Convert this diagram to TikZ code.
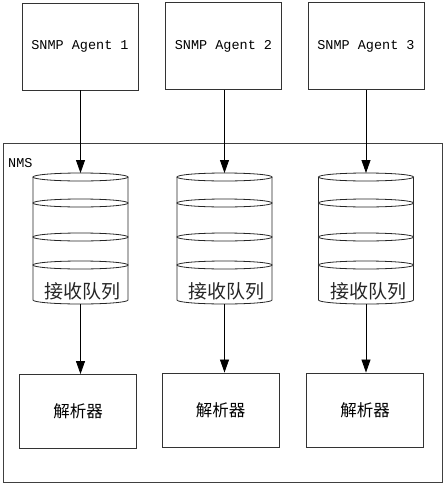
\documentclass[tikz,border=0pt]{standalone}
\usepackage{fontspec}
\setmonofont{Liberation Mono}
\newfontfamily\cjk{Noto Sans CJK SC}
\usetikzlibrary{arrows.meta,calc}
\tikzset{
  box/.style={draw=black!80,line width=0.9pt,inner sep=0pt},
  agent/.style={box,minimum width=116pt,minimum height=87pt,font=\ttfamily\fontsize{13.5}{16}\selectfont},
  parser/.style={box,minimum width=117pt,minimum height=74pt,font=\cjk\fontsize{16.5}{18}\selectfont},
  frame/.style={draw=black!75,line width=0.9pt,inner sep=0pt,minimum width=439pt,minimum height=339pt},
  cyl/.style={draw=black!85,line width=0.8pt},
  qtext/.style={inner sep=0pt,font=\cjk\fontsize{19}{21}\selectfont,text=black!85},
  flow/.style={draw=black,line width=0.8pt,-{Triangle[width=9pt,length=13pt]}},
  lbl/.style={inner sep=0pt,font=\ttfamily\fontsize{13.5}{16}\selectfont}
}
\newcommand\drawqueue[2]{%
  \draw[cyl] (#2-47.5,-177) -- (#2-47.5,-300) arc[start angle=180,end angle=360,x radius=47.5,y radius=4] -- (#2+47.5,-177);
  \foreach \yy in {177,203,237,265}{\draw[cyl,fill=white] (#2,-\yy) ellipse[x radius=47.5,y radius=4];}
  \node[qtext] (#1) at (#2+2,-291) {接收队列};
  \coordinate (#1top) at (#2,-173);
  \coordinate (#1bot) at (#2,-304);
}
\begin{document}
\begin{tikzpicture}[x=1pt,y=1pt]
\useasboundingbox (0,0) rectangle (443,-483);
\node[frame] (nms) at (222.5,-312.5) {};
\node[lbl,anchor=base west] (nmslabel) at (8,-167) {NMS};
\node[agent] (a1) at (80,-46.5) {SNMP Agent 1};
\node[agent] (a2) at (223.5,-46) {SNMP Agent 2};
\node[agent] (a3) at (366,-46) {SNMP Agent 3};
\drawqueue{q1}{80.5}
\drawqueue{q2}{224.5}
\drawqueue{q3}{366}
\node[parser] (p1) at (78,-411.5) {解析器};
\node[parser] (p2) at (220.5,-410) {解析器};
\node[parser] (p3) at (365,-410) {解析器};
\draw[flow] (q1top |- a1.south) -- (q1top);
\draw[flow] (q2top |- a2.south) -- (q2top);
\draw[flow] (q3top |- a3.south) -- (q3top);
\draw[flow] (q1bot) -- (q1bot |- p1.north);
\draw[flow] (q2bot) -- (q2bot |- p2.north);
\draw[flow] (q3bot) -- (q3bot |- p3.north);
\end{tikzpicture}
\end{document}
